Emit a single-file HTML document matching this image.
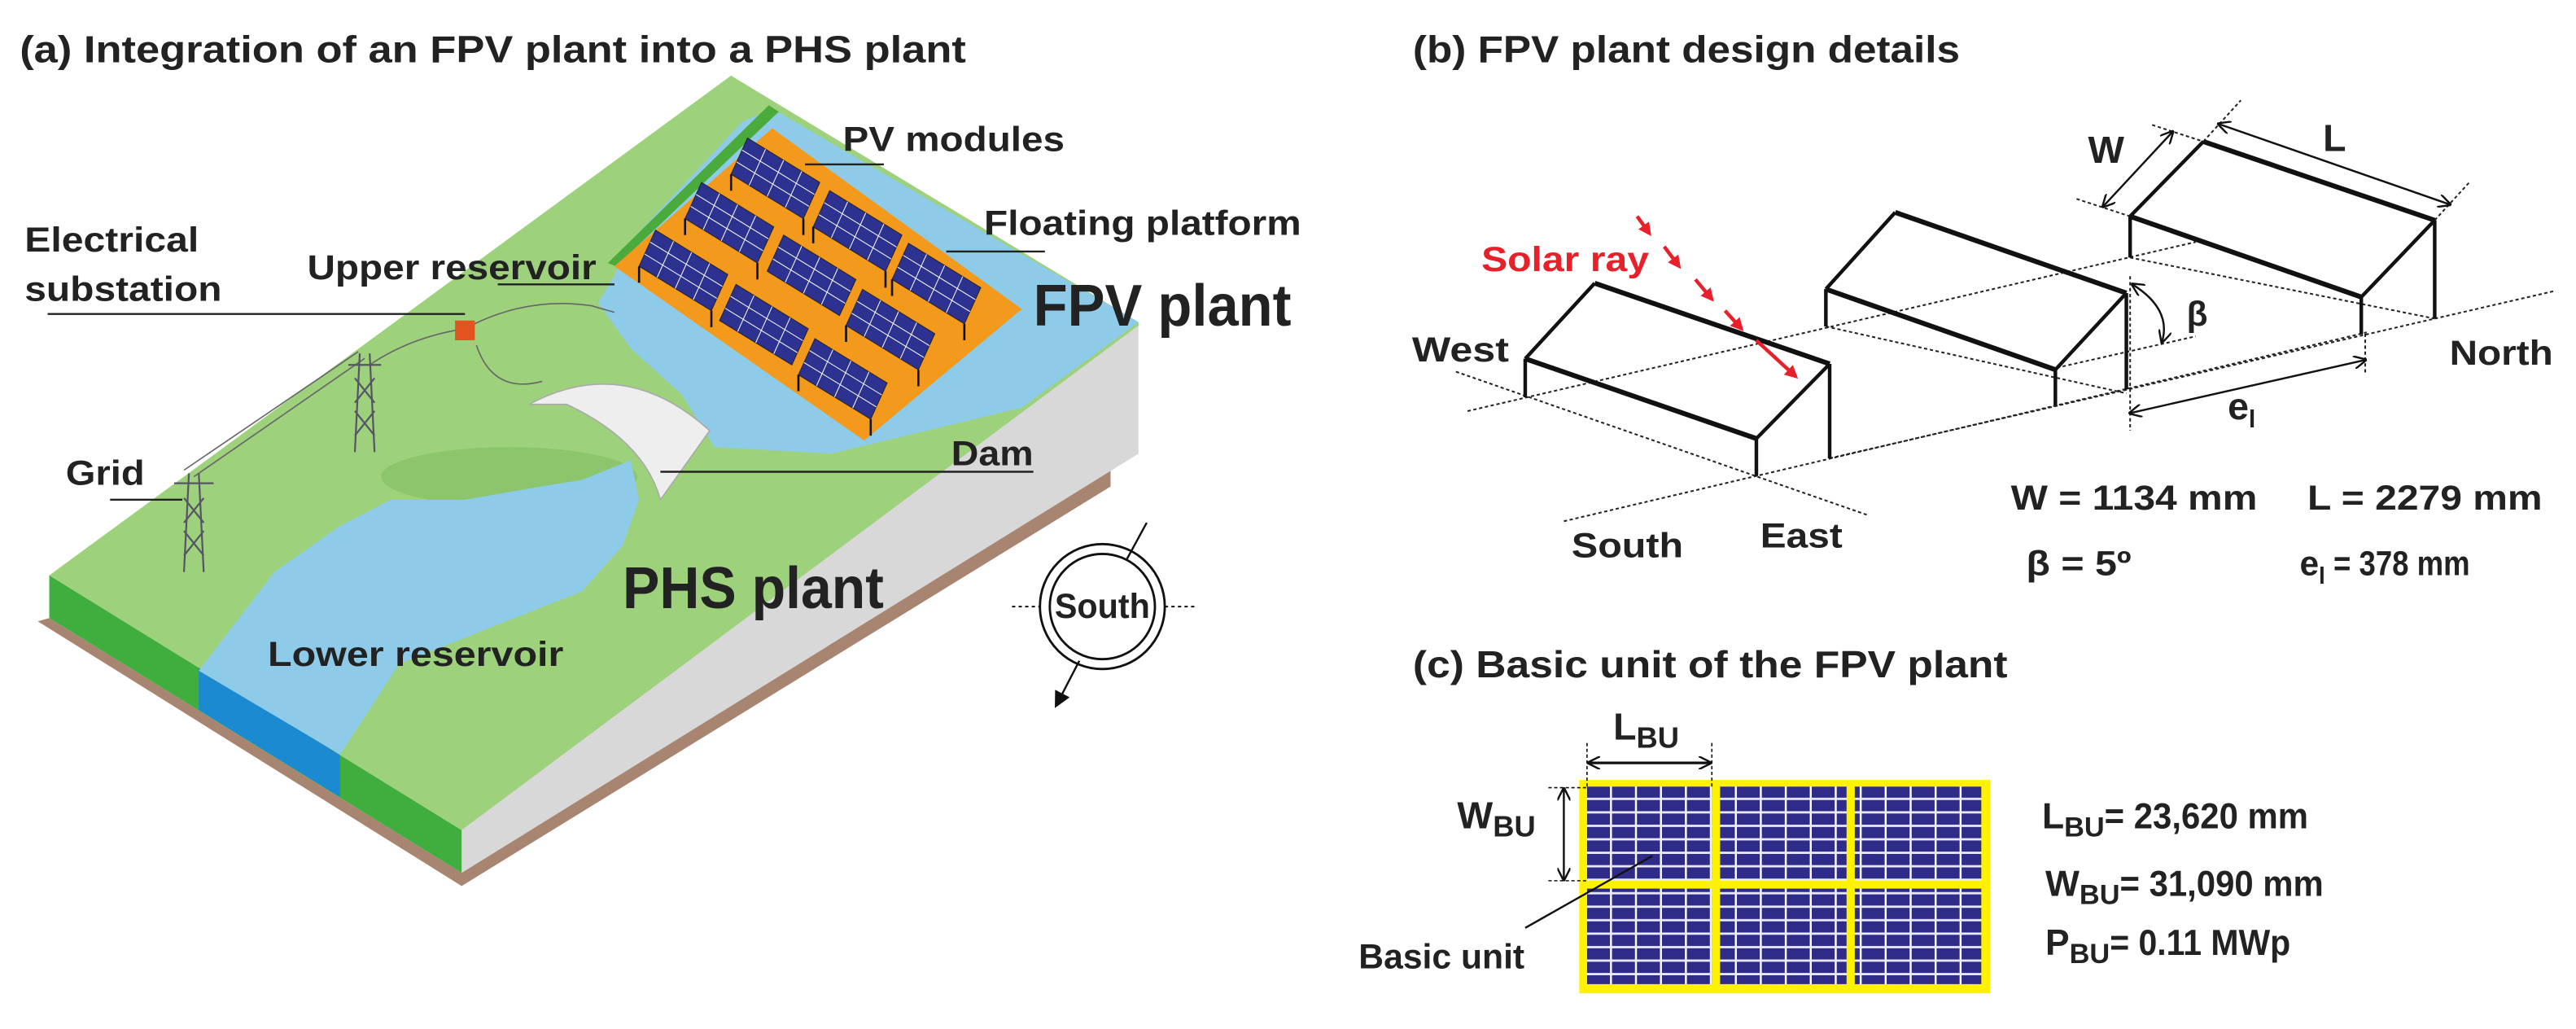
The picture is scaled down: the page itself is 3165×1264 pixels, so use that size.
<!DOCTYPE html>
<html><head><meta charset="utf-8"><style>
html,body{margin:0;padding:0;background:#fff;}
svg{display:block;}
text{font-family:"Liberation Sans",Arial,sans-serif;font-weight:bold;fill:#222;}
</style></head><body>
<svg width="3165" height="1264" viewBox="0 0 1568 626" preserveAspectRatio="none" xmlns="http://www.w3.org/2000/svg">
<defs>
<pattern id="cell" patternUnits="userSpaceOnUse" width="15.2" height="8.2" x="966" y="478.5">
<rect width="15.2" height="8.2" fill="#2f2b88"/>
<rect x="14" y="0" width="1.2" height="8.2" fill="#fff"/>
<rect x="0" y="6.8" width="15.2" height="1.4" fill="#e8e8ff"/>
</pattern>
<marker id="ah" markerWidth="8" markerHeight="8" refX="7" refY="4" orient="auto" markerUnits="userSpaceOnUse"><path d="M0,0 L8,4 L0,8" fill="none" stroke="#111" stroke-width="1.2"/></marker>
<marker id="ahs" markerWidth="8" markerHeight="8" refX="1" refY="4" orient="auto" markerUnits="userSpaceOnUse"><path d="M8,0 L0,4 L8,8" fill="none" stroke="#111" stroke-width="1.2"/></marker>
<marker id="ahr" markerWidth="8" markerHeight="8" refX="6" refY="4" orient="auto" markerUnits="userSpaceOnUse"><path d="M0,0 L8,4 L0,8 Z" fill="#e8202a"/></marker>
<marker id="ahf" markerWidth="10" markerHeight="10" refX="8" refY="5" orient="auto" markerUnits="userSpaceOnUse"><path d="M0,0 L10,5 L0,10 Z" fill="#111"/></marker>
<g id="pv">
<polygon points="0,0 1,0 1,1 0,1" fill="#2d3190" stroke="#222" stroke-width="1" vector-effect="non-scaling-stroke"/>
<path d="M0.25,0V1M0.5,0V1M0.75,0V1M0,0.33H1M0,0.66H1" stroke="#fff" stroke-width="1" vector-effect="non-scaling-stroke"/>
</g>
</defs>

<!-- PANEL A -->
<text x="12" y="38" font-size="23" textLength="576" lengthAdjust="spacingAndGlyphs">(a) Integration of an FPV plant into a PHS plant</text>

<polygon points="23,378 281,539 676,296 676,286 281,531 30,376" fill="#a88570"/>
<polygon points="281,505 693,196 693,276 281,531" fill="#d8d8d8"/>
<polygon points="30,350 281,505 281,531 30,376" fill="#3fae3f"/>
<polygon points="121,406 207,459 207,485 121,432" fill="#1c8ad0"/>
<polygon points="30,350 445,46 693,196 693,198 281,505" fill="#9dd17c"/>
<polygon points="374,168 364,184 384,212 415,240 435,272 506,276 556,264 622,248 693,196 470,66 452,74 379,152" fill="#8ecbe8"/>
<polygon points="468,64 474,68 375,162 370,160" fill="#4aaa3c"/>
<ellipse cx="310" cy="290" rx="78" ry="18" fill="#8cc56c"/>
<polygon points="121,408 167,348 207,320 238,304 283,304 329,296 354,292 384,280 389,304 379,332 354,360 303,380 243,404 207,459" fill="#8ecbe8"/>
<path d="M322,246 Q380,215 432,262 L402,304 Q392,268 345,246 Z" fill="#eeeeee" stroke="#aaa" stroke-width="0.8"/>
<polygon points="374,162 470,78 622,188 526,268" fill="#f39a1c"/>
<g>
<use href="#pv" transform="matrix(44,27,-10,22,455,84)"/>
<use href="#pv" transform="matrix(44,27,-10,22,505,116)"/>
<use href="#pv" transform="matrix(44,27,-10,22,553,148)"/>
<use href="#pv" transform="matrix(44,27,-10,22,427,111)"/>
<use href="#pv" transform="matrix(44,27,-10,22,477,143)"/>
<use href="#pv" transform="matrix(44,27,-10,22,525,176)"/>
<use href="#pv" transform="matrix(44,27,-10,22,399,140)"/>
<use href="#pv" transform="matrix(44,27,-10,22,448,173)"/>
<use href="#pv" transform="matrix(44,27,-10,22,496,206)"/>
</g>
<g stroke="#111" stroke-width="1.3">
<path d="M445,106v10M489,133v10M495,138v10M539,165v10M543,170v10M587,197v10M417,133v10M461,160v10M515,198v10M559,225v10M389,162v10M433,189v10M486,228v10M530,255v10"/>
</g>
<path d="M225,222 Q250,205 283,200 M283,200 Q320,180 360,186 L374,190 M290,210 Q300,240 330,232 M118,290 L222,218 M112,286 L218,214" fill="none" stroke="#666" stroke-width="0.8"/>
<g stroke="#556" stroke-width="1.1" fill="none">
<path d="M219,215 L216,275 M225,215 L228,275 M216,230 L228,245 M228,230 L216,245 M216,250 L228,265 M228,250 L216,265 M212,222 H232"/>
<path d="M115,288 L112,348 M121,288 L124,348 M112,303 L124,318 M124,303 L112,318 M112,323 L124,338 M124,323 L112,338 M106,294 H130"/>
</g>
<rect x="277" y="195" width="12" height="12" fill="#e2531f"/>
<g stroke="#222" stroke-width="1.2">
<line x1="490" y1="100" x2="538" y2="100"/>
<line x1="576" y1="153" x2="636" y2="153"/>
<line x1="29" y1="191" x2="283" y2="191"/>
<line x1="303" y1="173" x2="374" y2="173"/>
<line x1="67" y1="304" x2="111" y2="304"/>
<line x1="402" y1="287" x2="629" y2="287"/>
</g>
<text x="513" y="92" font-size="21" textLength="135" lengthAdjust="spacingAndGlyphs">PV modules</text>
<text x="599" y="143" font-size="21" textLength="193" lengthAdjust="spacingAndGlyphs">Floating platform</text>
<text x="15" y="153" font-size="21" textLength="106" lengthAdjust="spacingAndGlyphs">Electrical</text>
<text x="15" y="183" font-size="21" textLength="120" lengthAdjust="spacingAndGlyphs">substation</text>
<text x="187" y="170" font-size="21" textLength="176" lengthAdjust="spacingAndGlyphs">Upper reservoir</text>
<text x="629" y="198" font-size="36" textLength="157" lengthAdjust="spacingAndGlyphs">FPV plant</text>
<text x="40" y="295" font-size="21" textLength="48" lengthAdjust="spacingAndGlyphs">Grid</text>
<text x="579" y="283" font-size="21" textLength="50" lengthAdjust="spacingAndGlyphs">Dam</text>
<text x="379" y="370" font-size="36" textLength="159" lengthAdjust="spacingAndGlyphs">PHS plant</text>
<text x="163" y="405" font-size="21" textLength="180" lengthAdjust="spacingAndGlyphs">Lower reservoir</text>
<circle cx="671" cy="369" r="38" fill="#fff" stroke="#111" stroke-width="1.4"/>
<circle cx="671" cy="369" r="32" fill="#fff" stroke="#111" stroke-width="1.4"/>
<line x1="616" y1="369" x2="633" y2="369" stroke="#111" stroke-dasharray="2,2"/>
<line x1="709" y1="369" x2="727" y2="369" stroke="#111" stroke-dasharray="2,2"/>
<line x1="686" y1="340" x2="698" y2="318" stroke="#111" stroke-width="1.2"/>
<line x1="657" y1="402" x2="643" y2="429" stroke="#111" stroke-width="1.2" marker-end="url(#ahf)"/>
<text x="671" y="376" font-size="21" text-anchor="middle" textLength="58" lengthAdjust="spacingAndGlyphs">South</text>

<!-- PANEL B -->
<text x="860" y="38" font-size="23" textLength="333" lengthAdjust="spacingAndGlyphs">(b) FPV plant design details</text>
<g stroke="#222" stroke-width="1" stroke-dasharray="2,1.6" fill="none">
<line x1="893.3" y1="250.1" x2="1336.5" y2="147.2"/>
<line x1="951.9" y1="317.1" x2="1440.6" y2="202.2"/>
<line x1="1113.7" y1="278.8" x2="1554.6" y2="177.1"/>
<line x1="886.2" y1="226.1" x2="1137.2" y2="313.5"/>
<line x1="1111.4" y1="198.6" x2="1294.3" y2="239.3"/>
<line x1="1296.6" y1="156.7" x2="1481.9" y2="193.8"/>
<line x1="1252" y1="223.7" x2="1336.5" y2="204.6"/>
<line x1="1264" y1="121" x2="1296.6" y2="131.6"/>
<line x1="1310" y1="76" x2="1341.2" y2="86.1"/>
<line x1="1341.2" y1="86.1" x2="1364" y2="61"/>
<line x1="1482" y1="134" x2="1503" y2="111"/>
<line x1="1296.6" y1="168" x2="1296.6" y2="262"/>
<line x1="1439.7" y1="203" x2="1439.7" y2="227"/>
</g>
<g stroke="#111" fill="none" stroke-linejoin="round">
<g stroke-width="3">
<line x1="970.7" y1="172.3" x2="1113.7" y2="221.4"/>
<line x1="928.4" y1="218.2" x2="1069.1" y2="266.8"/>
<line x1="1153.6" y1="129.2" x2="1294.3" y2="178.3"/>
<line x1="1111.4" y1="175.9" x2="1251.1" y2="224.9"/>
<line x1="1341.2" y1="86.1" x2="1482" y2="134"/>
<line x1="1296.6" y1="131.6" x2="1437.3" y2="180.7"/>
</g>
<g stroke-width="2.2">
<path d="M928.4,218.2 L970.7,172.3 M1069.1,266.8 L1113.7,221.4 M928.4,218.2 V241.7 M1069.1,266.8 V289.6 M1113.7,221.4 V278.8"/>
<path d="M1111.4,175.9 L1153.6,129.2 M1251.1,224.9 L1294.3,178.3 M1111.4,175.9 V198.6 M1251.1,224.9 V246.5 M1294.3,178.3 V236.9"/>
<path d="M1296.6,131.6 L1341.2,86.1 M1437.3,180.7 L1482,134 M1296.6,131.6 V156.7 M1437.3,180.7 V203.4 M1482,134 V193.8"/>
</g>
<g stroke-width="1.2">
<line x1="1280.2" y1="125.6" x2="1322.4" y2="80.2" marker-start="url(#ahs)" marker-end="url(#ah)"/>
<line x1="1350.5" y1="75.4" x2="1491.2" y2="124.4" marker-start="url(#ahs)" marker-end="url(#ah)"/>
<line x1="1296.6" y1="251.3" x2="1439.7" y2="219" marker-start="url(#ahs)" marker-end="url(#ah)"/>
<path d="M1298,173 Q1322,188 1316,208" marker-start="url(#ahs)" marker-end="url(#ah)"/>
</g>
</g>
<g stroke="#e8202a" stroke-width="2.2">
<line x1="996.5" y1="131.6" x2="1004" y2="142" marker-end="url(#ahr)"/>
<line x1="1013" y1="150" x2="1022" y2="162" marker-end="url(#ahr)"/>
<line x1="1032" y1="170" x2="1042" y2="182" marker-end="url(#ahr)"/>
<line x1="1050" y1="189" x2="1060" y2="200" marker-end="url(#ahr)"/>
<line x1="1069" y1="207" x2="1093" y2="229" marker-end="url(#ahr)"/>
</g>
<text x="901.7" y="165" font-size="21" style="fill:#e8202a" textLength="102" lengthAdjust="spacingAndGlyphs">Solar ray</text>
<text x="1271" y="99" font-size="23" textLength="22" lengthAdjust="spacingAndGlyphs">W</text>
<text x="1414" y="92" font-size="23">L</text>
<text x="1331" y="198" font-size="21">β</text>
<text x="1356" y="255" font-size="23">e<tspan font-size="15" dy="5">l</tspan></text>
<text x="859.5" y="220" font-size="21" textLength="59" lengthAdjust="spacingAndGlyphs">West</text>
<text x="1491" y="222" font-size="21" textLength="63" lengthAdjust="spacingAndGlyphs">North</text>
<text x="956.6" y="339" font-size="21" textLength="68" lengthAdjust="spacingAndGlyphs">South</text>
<text x="1071.5" y="333" font-size="21" textLength="50" lengthAdjust="spacingAndGlyphs">East</text>
<text x="1224" y="310" font-size="21" textLength="150" lengthAdjust="spacingAndGlyphs">W = 1134 mm</text>
<text x="1404.5" y="310" font-size="21" textLength="143" lengthAdjust="spacingAndGlyphs">L = 2279 mm</text>
<text x="1233.3" y="350" font-size="21" textLength="64" lengthAdjust="spacingAndGlyphs">β = 5º</text>
<text x="1399.8" y="350" font-size="21">e<tspan font-size="14" dy="5">l</tspan><tspan dy="-5" textLength="88" lengthAdjust="spacingAndGlyphs"> = 378 mm</tspan></text>

<!-- PANEL C -->
<text x="860" y="412" font-size="23" textLength="362" lengthAdjust="spacingAndGlyphs">(c) Basic unit of the FPV plant</text>
<rect x="961.3" y="474.5" width="250" height="129.8" fill="#fff200"/>
<rect x="966" y="478.5" width="76" height="57.3" fill="url(#cell)"/>
<rect x="1047" y="478.5" width="77" height="57.3" fill="url(#cell)"/>
<rect x="1129" y="478.5" width="77" height="57.3" fill="url(#cell)"/>
<rect x="966" y="540.6" width="76" height="58.1" fill="url(#cell)"/>
<rect x="1047" y="540.6" width="77" height="58.1" fill="url(#cell)"/>
<rect x="1129" y="540.6" width="77" height="58.1" fill="url(#cell)"/>
<g stroke="#111" stroke-width="0.8" stroke-dasharray="2,1.5">
<line x1="966" y1="452" x2="966" y2="479"/>
<line x1="1042" y1="452" x2="1042" y2="479"/>
<line x1="942.5" y1="479.2" x2="966" y2="479.2"/>
<line x1="942.5" y1="535.8" x2="966" y2="535.8"/>
</g>
<line x1="967" y1="464.1" x2="1041" y2="464.1" stroke="#111" stroke-width="1.6" marker-start="url(#ahs)" marker-end="url(#ah)"/>
<line x1="951.9" y1="480" x2="951.9" y2="535" stroke="#111" stroke-width="1.2" marker-start="url(#ahs)" marker-end="url(#ah)"/>
<line x1="928.4" y1="564.5" x2="1005.8" y2="520.7" stroke="#111" stroke-width="1.2"/>
<text x="982" y="450" font-size="23">L<tspan font-size="18" dy="5">BU</tspan></text>
<text x="887" y="504" font-size="23">W<tspan font-size="18" dy="5">BU</tspan></text>
<text x="827" y="589" font-size="21" textLength="101" lengthAdjust="spacingAndGlyphs">Basic unit</text>
<text x="1243" y="504" font-size="22">L<tspan font-size="17" dy="5">BU</tspan><tspan dy="-5" textLength="124" lengthAdjust="spacingAndGlyphs">= 23,620 mm</tspan></text>
<text x="1245" y="545" font-size="22">W<tspan font-size="17" dy="5">BU</tspan><tspan dy="-5" textLength="124" lengthAdjust="spacingAndGlyphs">= 31,090 mm</tspan></text>
<text x="1245" y="581" font-size="22">P<tspan font-size="17" dy="5">BU</tspan><tspan dy="-5" textLength="110" lengthAdjust="spacingAndGlyphs">= 0.11 MWp</tspan></text>
</svg>
</body></html>
